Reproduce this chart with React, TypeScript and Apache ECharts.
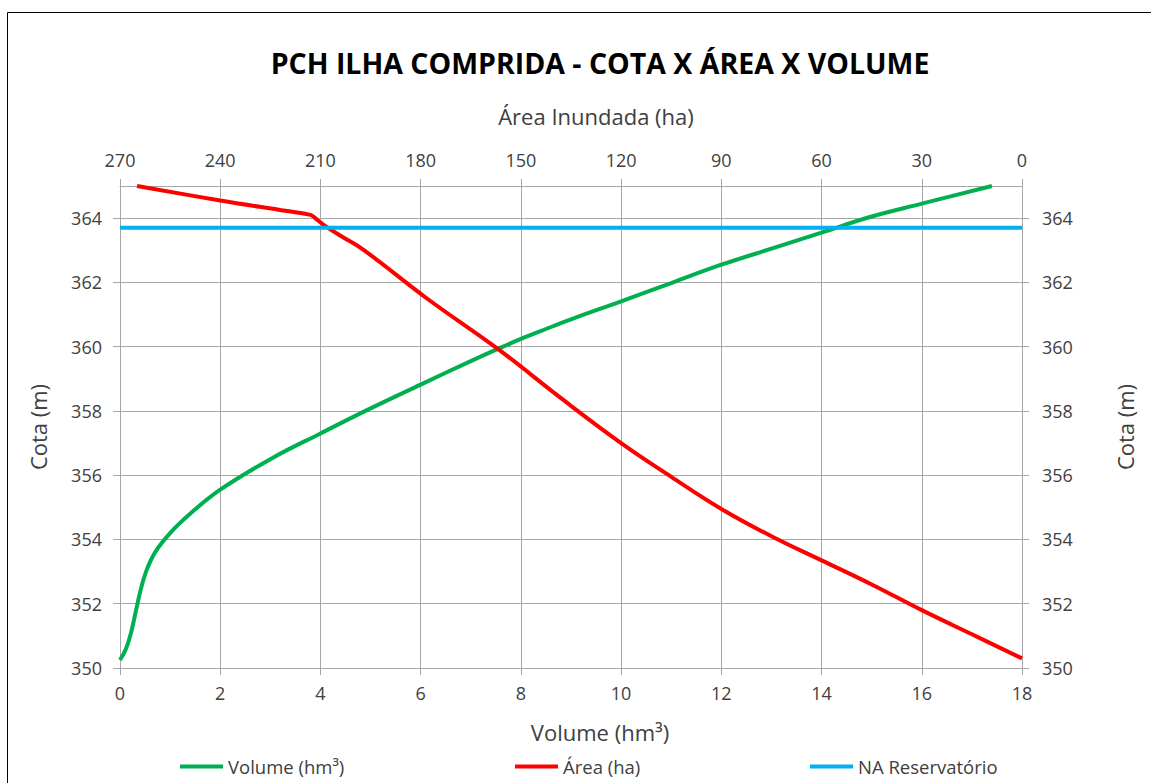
import React, { useEffect, useRef } from "react";
import * as echarts from "echarts";

const titleText = "PCH ILHA COMPRIDA - COTA X ÁREA X VOLUME";
const seriesNames = ["Volume (hm³)", "Área (ha)", "NA Reservatório"];

// Volume (hm³) vs Cota (m)
const volumeValues: number[] = [0, 0.12, 0.22, 0.3, 0.4, 0.52, 0.7, 1.0, 1.4, 2, 3, 4, 5, 6, 7, 7.54, 8, 8.5, 9, 10, 11, 12, 13, 14, 15, 16, 17.4];
const volumeCota: number[] = [350.25, 350.6, 351.1, 351.65, 352.35, 353.0, 353.6, 354.2, 354.8, 355.55, 356.5, 357.3, 358.08, 358.82, 359.55, 359.93, 360.24, 360.55, 360.85, 361.41, 361.98, 362.55, 363.05, 363.55, 364.05, 364.45, 365.0];

// Área (ha) vs Cota (m)
const areaValues: number[] = [264.9, 240, 220, 213, 211, 208.5, 204, 197.2, 177.6, 156.9, 137.4, 120, 105, 90, 75, 60, 45, 30, 15, 0];
const areaCota: number[] = [365.0, 364.55, 364.22, 364.1, 363.95, 363.75, 363.45, 363.02, 361.46, 359.93, 358.35, 357.0, 355.95, 354.95, 354.1, 353.35, 352.6, 351.8, 351.05, 350.3];

// NA Reservatório
const naVolume: number[] = [0, 18];
const naCota: number[] = [363.7, 363.7];

const volumeTicks = { min: 0, max: 18, interval: 2 };
const areaTicks = { min: 0, max: 270, interval: 30 };
const cotaTicks = { min: 350, max: 365, interval: 2 };

const FONT = "'Open Sans', sans-serif";
const TXT = "#404040";
const GRID = "#a6a6a6";

export default function App() {
  const ref = useRef<HTMLDivElement>(null);
  useEffect(() => {
    if (!ref.current) return;
    const chart = echarts.init(ref.current, undefined, { renderer: "svg" });
    const axisCommon = {
      axisLine: { show: true, lineStyle: { color: GRID, width: 1 } },
      axisTick: { show: true, length: 7, lineStyle: { color: GRID } },
      axisLabel: { color: TXT, fontSize: 18, fontFamily: FONT },
      nameTextStyle: { color: TXT, fontSize: 22, fontFamily: FONT },
    };
    const legendCommon = {
      orient: "horizontal",
      icon: "rect",
      itemWidth: 43,
      itemHeight: 4,
      top: 757,
      padding: 0,
      textStyle: { color: TXT, fontSize: 18.5, fontFamily: FONT },
    };
    chart.setOption({
      animation: false,
      backgroundColor: "#ffffff",
      title: {
        text: titleText,
        left: 595,
        textAlign: "center",
        top: 43,
        textStyle: { color: "#000", fontSize: 28.5, fontWeight: "bold", fontFamily: FONT },
      },
      graphic: [
        {
          type: "rect",
          shape: { x: 7.5, y: 12.5, width: 1300, height: 1000 },
          style: { fill: "none", stroke: "#000", lineWidth: 1 },
          silent: true,
        },
      ],
      legend: [
        { ...legendCommon, left: 180, data: [seriesNames[0]] },
        { ...legendCommon, left: 515, data: [seriesNames[1]] },
        { ...legendCommon, left: 810, data: [seriesNames[2]] },
      ],
      grid: { left: 120, right: 129, top: 186, bottom: 115, containLabel: false },
      xAxis: [
        {
          ...axisCommon,
          type: "value",
          position: "bottom",
          ...volumeTicks,
          name: "Volume (hm³)",
          nameLocation: "middle",
          nameGap: 53,
          nameTextStyle: { ...axisCommon.nameTextStyle, padding: [0, 0, 0, 58] },
          axisLabel: { ...axisCommon.axisLabel, margin: 16 },
          splitLine: { show: true, lineStyle: { color: GRID, width: 1 } },
        },
        {
          ...axisCommon,
          type: "value",
          position: "top",
          inverse: true,
          ...areaTicks,
          name: "Área Inundada (ha)",
          nameLocation: "middle",
          nameGap: 59,
          nameTextStyle: { ...axisCommon.nameTextStyle, padding: [0, 0, 0, 50] },
          axisLabel: { ...axisCommon.axisLabel, margin: 17 },
          splitLine: { show: false },
        },
      ],
      yAxis: [
        {
          ...axisCommon,
          type: "value",
          position: "left",
          ...cotaTicks,
          name: "Cota (m)",
          nameLocation: "middle",
          nameGap: 71,
          axisLabel: { ...axisCommon.axisLabel, margin: 18, showMaxLabel: false },
          splitLine: { show: true, lineStyle: { color: GRID, width: 1 } },
        },
        {
          ...axisCommon,
          type: "value",
          position: "right",
          ...cotaTicks,
          name: "Cota (m)",
          nameLocation: "middle",
          nameGap: 92,
          axisLabel: { ...axisCommon.axisLabel, margin: 20, showMaxLabel: false },
          splitLine: { show: false },
        },
      ],
      series: [
        {
          name: seriesNames[0],
          type: "line",
          xAxisIndex: 0,
          yAxisIndex: 0,
          smooth: 0.4,
          showSymbol: false,
          symbol: "none",
          lineStyle: { color: "#00b050", width: 4 },
          itemStyle: { color: "#00b050" },
          data: volumeValues.map((v, i) => [v, volumeCota[i]]),
        },
        {
          name: seriesNames[1],
          type: "line",
          xAxisIndex: 1,
          yAxisIndex: 0,
          smooth: 0.4,
          showSymbol: false,
          symbol: "none",
          lineStyle: { color: "#ff0000", width: 4 },
          itemStyle: { color: "#ff0000" },
          data: areaValues.map((v, i) => [v, areaCota[i]]),
        },
        {
          name: seriesNames[2],
          type: "line",
          xAxisIndex: 0,
          yAxisIndex: 0,
          showSymbol: false,
          symbol: "none",
          lineStyle: { color: "#00b0f0", width: 4 },
          itemStyle: { color: "#00b0f0" },
          data: naVolume.map((v, i) => [v, naCota[i]]),
        },
      ],
    });
    return () => chart.dispose();
  }, []);
  return (
    <div
      ref={ref}
      style={{ position: "absolute", left: 0, top: 0, width: 1151, height: 783 }}
    />
  );
}
